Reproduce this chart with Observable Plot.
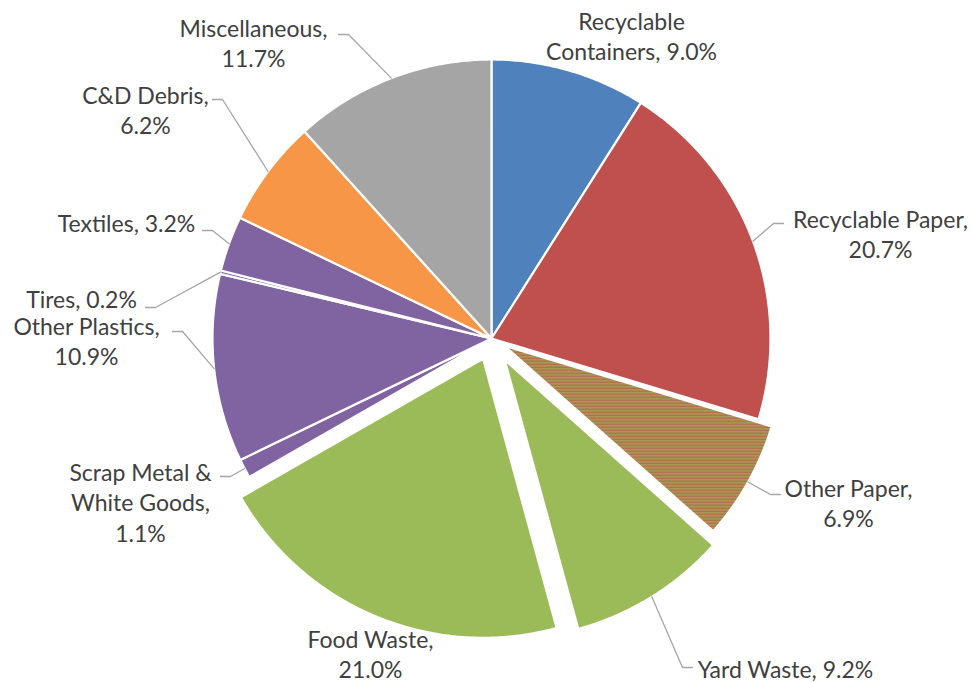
<!DOCTYPE html>
<html><head><meta charset="utf-8">
<script src="https://cdn.jsdelivr.net/npm/d3@7"></script>
<script src="https://cdn.jsdelivr.net/npm/@observablehq/plot@0.6"></script>
<style>body{margin:0;background:#fff} #chart{width:972px;height:682px}</style>
</head><body><div id="chart"></div>
<script>
// ---- data ----
const categories = ["Recyclable Containers","Recyclable Paper","Other Paper","Yard Waste","Food Waste","Scrap Metal & White Goods","Other Plastics","Tires","Textiles","C&D Debris","Miscellaneous"];
const shares = [9.0,20.7,6.9,9.2,21.0,1.1,10.9,0.2,3.2,6.2,11.7];

// ---- styles / layout ----
const fills = ["#4F81BD","#C0504D","url(#otherPaperHatch)","#9BBB59","#9BBB59","#8064A2","#8064A2","#8064A2","#8064A2","#F79646","#A5A5A5"];
const explode = [0,0,15,25,22,0,0,0,0,0,0];
// word index after which a line break is placed in each label
const breaks = [[0],[1],[1],[],[1],[2,4],[1],[],[],[1],[0]];
// label block centre, offset from pie centre (px)
const labelOffset = [[140,-303],[389,-105],[357,164],[294,330],[-121,315],[-351,163],[-405,2],[-410,-40],[-365,-116],[-346,-229],[-238,-296]];
// leader elbow offset from pie centre and tail direction (null = no leader)
const leaderElbow = [null,[282,-115,1],[279,156,1],[191,329,1],null,[-261,138,-1],[-309,-7,-1],[-336,-31,-1],[-279,-108,-1],[-269,-239,-1],[-143,-304,-1]];

const W = 972, H = 682, CX = 491, CY = 338, R = 279, FONT = 23;

const arcs = d3.pie().sort(null).value(d => d)(shares);
const slices = arcs.map((p, i) => {
  const mid = (p.startAngle + p.endAngle) / 2;
  const ox = CX + explode[i] * Math.sin(mid), oy = CY - explode[i] * Math.cos(mid);
  const n = Math.max(2, Math.ceil((p.endAngle - p.startAngle) / (Math.PI / 360)));
  const pts = [{x: ox, y: oy}];
  for (let k = 0; k <= n; k++) {
    const a = p.startAngle + (p.endAngle - p.startAngle) * k / n;
    pts.push({x: ox + R * Math.sin(a), y: oy - R * Math.cos(a)});
  }
  return {i, mid, ox, oy, pts};
});

const labels = categories.map((c, i) => {
  const words = `${c}, ${shares[i].toFixed(1)}%`.split(" ");
  const text = words.map((w, k) => w + (k === words.length - 1 ? "" : breaks[i].includes(k) ? "\n" : " ")).join("");
  return {text, x: CX + labelOffset[i][0], y: CY + labelOffset[i][1]};
});

const leaders = [];
slices.forEach(s => {
  const e = leaderElbow[s.i];
  if (!e) return;
  const ax = s.ox + R * Math.sin(s.mid), ay = s.oy - R * Math.cos(s.mid);
  leaders.push({k: s.i, x: ax, y: ay});
  leaders.push({k: s.i, x: CX + e[0], y: CY + e[1]});
  leaders.push({k: s.i, x: CX + e[0] + 10 * e[2], y: CY + e[1]});
});

const svg = Plot.plot({
  width: W, height: H, margin: 0,
  x: {domain: [0, W], range: [0, W], axis: null},
  y: {domain: [0, H], range: [0, H], axis: null},
  style: {fontFamily: "Lato", background: "white"},
  marks: [
    ...slices.map(s => Plot.line(s.pts, {x: "x", y: "y", curve: "linear-closed", fill: fills[s.i], stroke: "white", strokeWidth: 2.2, strokeLinejoin: "round"})),
    Plot.line(leaders, {x: "x", y: "y", z: "k", stroke: "#A6A6A6", strokeWidth: 1.3}),
    Plot.text(labels, {x: "x", y: "y", text: "text", fontSize: FONT, lineHeight: 1.32, fill: "#404040", textAnchor: "middle"})
  ]
});

const defs = document.createElementNS("http://www.w3.org/2000/svg", "defs");
defs.innerHTML = `<pattern id="otherPaperHatch" patternUnits="userSpaceOnUse" width="8" height="3">
  <rect width="8" height="3" fill="#B8624A"/><rect y="1.6" width="8" height="1.4" fill="#A4AE58"/></pattern>`;
svg.insertBefore(defs, svg.firstChild);
document.getElementById("chart").appendChild(svg);
</script>
</body></html>
